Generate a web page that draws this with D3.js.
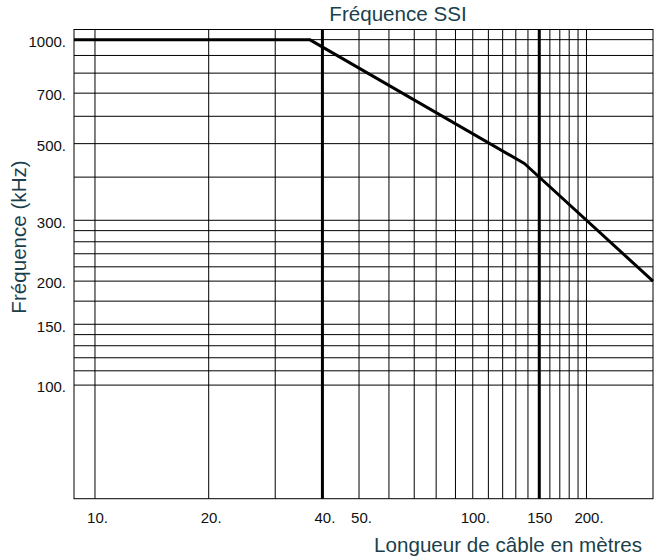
<!DOCTYPE html>
<html>
<head>
<meta charset="utf-8">
<script src="https://cdn.jsdelivr.net/npm/d3@7"></script>
<style>
  body { margin: 0; background: #fff; }
  svg { display: block; }
</style>
</head>
<body>
<div id="chart"></div>
<script>
'use strict';

// Data: SSI frequency vs cable length
var lengths = [8.8, 37, 137, 300]
var frequencies = [1000, 1000, 438, 200]

// Axis ticks and labels
var xTickValues = [10, 20, 40, 50, 100, 150, 200]
var xTickLabels = ['10.', '20.', '40.', '50.', '100.', '150', '200.']
var yTickValues = [1000, 700, 500, 300, 200, 150, 100]
var yTickLabels = ['1000.', '700.', '500.', '300.', '200.', '150.', '100.']

// Grid lines
var xGrid = [10, 20, 30, 40, 50, 60, 70, 80, 90, 100, 110, 120, 130, 140, 150, 160, 170, 180, 190, 200]
var yGrid = [100, 110, 120, 130, 140, 150, 175, 200, 220, 240, 260, 280, 300, 400, 500, 600, 700, 800, 900, 1000]
var xMarkers = [40, 150]

var xDomain = [8.8, 300]
var yDomain = [46.9, 1070]

var settings = {}
settings.font_family = 'Arial, "Liberation Sans", sans-serif'
settings.tick_font_size = '15px'
settings.title_font_size = '20.6px'
settings.title_color = '#1b3f4c'

var width = 660,
    height = 560
var margin = {top: 29.5, right: 7, bottom: 61.3, left: 74}

var x = d3.scaleLog()
          .domain(xDomain)
          .range([margin.left, width - margin.right])

var y = d3.scaleLog()
          .domain(yDomain)
          .range([height - margin.bottom, margin.top])

var svg = d3.select('#chart').append('svg')
    .attr('width', width)
    .attr('height', height)

// vertical grid
svg.append('g')
  .selectAll('line')
  .data(xGrid)
  .enter().append('line')
    .attr('x1', function(d) { return x(d) })
    .attr('x2', function(d) { return x(d) })
    .attr('y1', y.range()[0])
    .attr('y2', y.range()[1])
    .attr('stroke', '#000')
    .attr('stroke-width', 1)

// horizontal grid
svg.append('g')
  .selectAll('line')
  .data(yGrid)
  .enter().append('line')
    .attr('x1', x.range()[0])
    .attr('x2', x.range()[1])
    .attr('y1', function(d) { return y(d) })
    .attr('y2', function(d) { return y(d) })
    .attr('stroke', '#000')
    .attr('stroke-width', 1)

// frame
svg.append('rect')
    .attr('x', x.range()[0])
    .attr('y', y.range()[1])
    .attr('width', x.range()[1] - x.range()[0])
    .attr('height', y.range()[0] - y.range()[1])
    .attr('fill', 'none')
    .attr('stroke', '#000')
    .attr('stroke-width', 1)

// thick markers at 40 m and 150 m
svg.append('g')
  .selectAll('line')
  .data(xMarkers)
  .enter().append('line')
    .attr('x1', function(d) { return x(d) })
    .attr('x2', function(d) { return x(d) })
    .attr('y1', y.range()[0])
    .attr('y2', y.range()[1])
    .attr('stroke', '#000')
    .attr('stroke-width', 3)

// curve
var line = d3.line()
    .x(function(d) { return x(d[0]) })
    .y(function(d) { return y(d[1]) })

svg.append('path')
    .datum(d3.zip(lengths, frequencies))
    .attr('d', line)
    .attr('fill', 'none')
    .attr('stroke', '#000')
    .attr('stroke-width', 3)
    .attr('stroke-linejoin', 'round')

// axes (labels only)
var xAxis = svg.append('g')
    .attr('transform', 'translate(0,' + (y.range()[0] + 6) + ')')
    .call(d3.axisBottom(x)
      .tickValues(xTickValues)
      .tickSize(0)
      .tickPadding(8)
      .tickFormat(function(d, i) { return xTickLabels[i] }))
xAxis.select('.domain').remove()
xAxis.selectAll('text')
    .attr('dx', function(d, i) { return xTickLabels[i].slice(-1) === '.' ? 2 : 0 })
    .attr('font-family', settings.font_family)
    .attr('font-size', settings.tick_font_size)
    .attr('fill', '#111')

var yAxis = svg.append('g')
    .attr('transform', 'translate(' + (x.range()[0] - 8) + ',0)')
    .call(d3.axisLeft(y)
      .tickValues(yTickValues)
      .tickSize(0)
      .tickPadding(0)
      .tickFormat(function(d, i) { return yTickLabels[i] }))
yAxis.select('.domain').remove()
yAxis.selectAll('text')
    .attr('dy', '0.45em')
    .attr('font-family', settings.font_family)
    .attr('font-size', settings.tick_font_size)
    .attr('fill', '#111')

// titles
svg.append('text')
    .attr('x', 398)
    .attr('y', 21)
    .attr('text-anchor', 'middle')
    .attr('font-family', settings.font_family)
    .attr('font-size', settings.title_font_size)
    .attr('fill', settings.title_color)
    .text('Fréquence SSI')

svg.append('text')
    .attr('x', 642)
    .attr('y', 552)
    .attr('text-anchor', 'end')
    .attr('font-family', settings.font_family)
    .attr('font-size', settings.title_font_size)
    .attr('fill', settings.title_color)
    .text('Longueur de câble en mètres')

svg.append('text')
    .attr('transform', 'translate(26,237) rotate(-90)')
    .attr('text-anchor', 'middle')
    .attr('font-family', settings.font_family)
    .attr('font-size', settings.title_font_size)
    .attr('fill', settings.title_color)
    .text('Fréquence (kHz)')
</script>
</body>
</html>
